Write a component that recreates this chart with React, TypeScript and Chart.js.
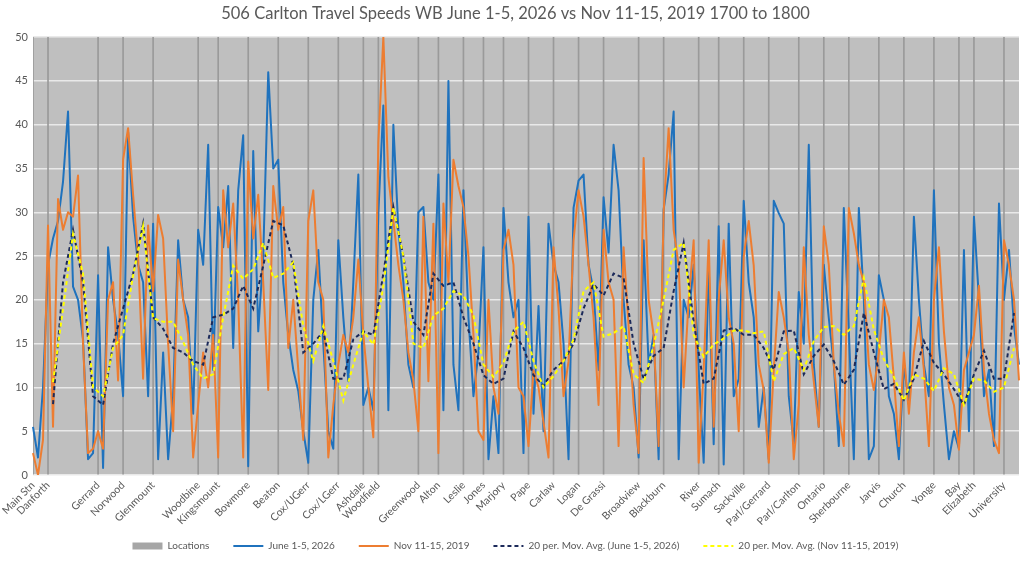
import React, { useEffect, useRef } from "react";
import { Chart, registerables } from "chart.js";

Chart.register(...registerables);

const chartTitle = "506 Carlton Travel Speeds WB June 1-5, 2026 vs Nov 11-15, 2019 1700 to 1800";

const locationNames = [
  "Main Stn", "Danforth", "Gerrard", "Norwood", "Glenmount", "Woodbine", "Kingsmount", "Bowmore",
  "Beaton", "Cox/UGerr", "Cox/LGerr", "Ashdale", "Woodfield", "Greenwood", "Alton", "Leslie",
  "Jones", "Marjory", "Pape", "Carlaw", "Logan", "De Grassi", "Broadview", "Blackburn", "River",
  "Sumach", "Sackville", "Parl/Gerrard", "Parl/Carlton", "Ontario", "Sherbourne", "Jarvis",
  "Church", "Yonge", "Bay", "Elizabeth", "University",
];
const locationIndex = [
  0, 3, 13, 18, 24, 33, 37, 43, 49, 55, 61, 66, 69, 77, 81, 86, 90, 94, 99, 104, 109, 114, 121,
  126, 133, 137, 142, 147, 153, 158, 163, 169, 174, 180, 185, 188, 194,
];

// June 1-5, 2026 speeds (km/h) per sample
const juneSpeeds = [
  5.5, 2, 10, 24, 27, 29, 33.5, 41.5, 21.5, 20, 15.5, 1.8, 2.5, 22.8, 0.8, 26, 20, 16, 9, 39.2, 29.5, 24, 22, 9, 28.7, 1.8, 14, 1.8,
  9, 26.8, 20, 18, 7, 28, 24, 37.7, 12, 30.6, 26, 33, 14.5, 32.5, 38.8, 1, 37, 16.4, 25, 46, 35, 36, 22, 16, 12, 9.6, 5, 1.4,
  20, 25.7, 15, 5, 3, 26.8, 18, 10.7, 22, 34.3, 8, 10, 7.4, 29.9, 42.2, 7.4, 40, 28, 22, 12.6, 10, 30, 30.6, 22, 20, 34.3, 7.4, 45,
  12.6, 7.4, 32.5, 18, 9, 14, 26, 1.8, 9, 2.5, 30.5, 22, 18, 20, 2.5, 29.5, 7, 19.3, 5, 28.7, 24, 22, 15, 1.8, 30.5, 33.6, 34.3, 24,
  21, 12, 31.7, 25.4, 37.7, 32.5, 20, 12.6, 10, 2, 26.8, 12.6, 16, 1.8, 30.3, 34.3, 41.5, 1.8, 20, 18, 24, 12, 1.4, 24, 3.5, 28.4, 1.2, 28.7,
  9, 11, 31.3, 22, 18, 5.5, 10, 1.8, 31.3, 29.9, 28.7, 9, 3.6, 20.9, 15, 37.7, 12.6, 5.5, 24, 17.9, 12.6, 3.3, 30.5, 16.4, 1.8, 30.5, 20, 1.8,
  3.3, 22.8, 20, 9, 7, 1.8, 12.6, 8, 29.5, 20, 12.6, 9, 32.5, 15, 8, 1.8, 5, 3, 25.7, 5, 29.5, 20, 9, 12, 3.3, 31, 20, 25.7, 17, 12.6,
];

// Nov 11-15, 2019 speeds (km/h) per sample
const novSpeeds = [
  2.5, 0, 4, 28.5, 5.5, 31.5, 28, 30, 29.5, 34.2, 15, 2.5, 3, 5, 3, 20, 22, 10.8, 36, 39.6, 32, 25, 11, 28.5, 21, 29.7, 27, 15,
  5, 24.6, 20, 16, 2, 8, 14, 10, 16, 2, 32.5, 26, 31, 20, 2, 35.8, 27, 32, 22, 9.7, 33, 28, 30.6, 14.5, 20, 12, 4, 29,
  32.5, 22, 20, 2, 8, 12.6, 16, 14, 18, 24.6, 16, 10, 4.3, 38, 50, 34, 29, 24, 20, 14, 10.8, 5, 29.5, 10.7, 28.7, 2.5, 31, 22,
  36, 33, 30.6, 25, 16, 5, 4, 20, 10, 7, 25.7, 28, 24, 10, 9, 3.3, 12, 10, 6, 2, 26, 19, 9, 13, 26.8, 32.5, 29.5, 24,
  18, 8, 28, 22, 20, 3.3, 26, 17, 8, 2.5, 36.2, 20, 16, 3.3, 30, 39.6, 28, 24, 10, 20, 26.8, 1.4, 12, 26.8, 5.5, 20, 26.8, 18,
  15, 5, 25, 29, 23.9, 12.6, 9.7, 1.4, 12, 20.9, 18, 14, 1.8, 8, 26, 16, 10.7, 5.5, 28.4, 24, 12.6, 7, 3.3, 30.5, 27.6, 24, 22, 12.6,
  9.7, 14, 20, 18, 11, 3.3, 14, 7, 14, 18, 12, 3.3, 20, 26, 16.4, 10, 8, 2.9, 12, 14, 16, 21.6, 12, 7, 4, 2.5, 26.8, 24, 20, 10.8,
];

// 20 per. moving averages, read at every second sample (0, 2, 4, ...)
const juneMovAvg = [
  null, null, 8.1, 22, 28, 22, 9, 8, 15, 19, 23, 28.7, 18, 16.7,
  14.5, 14, 13, 12.6, 18, 18.3, 19, 21.6, 19, 23.9, 29, 28.5, 24, 14,
  15, 16.4, 11, 11, 15.5, 16.4, 16, 23, 30.6, 25, 17.5, 16, 23, 21.6,
  22, 18, 15, 11.4, 10.4, 11, 16.4, 14.5, 11.4, 10.2, 12, 13, 15, 19,
  21.8, 20.5, 23, 22.5, 15, 11, 13.6, 14.5, 21, 26.5, 17.5, 10.4, 11, 16.5,
  16.8, 16, 16, 14.5, 12, 16.4, 16.5, 11.5, 13.6, 14.9, 13, 10.3, 12, 18.5,
  14, 9.8, 10.4, 8.6, 11, 15.3, 12.8, 11.5, 9.8, 8, 11.5, 14.2, 11, 11, 18.5,
];
const novMovAvg = [
  null, null, 10.6, 19, 27.5, 23, 10, 9, 14.5, 16, 22.8, 28.4, 17.9, 17.5,
  17.5, 15.2, 12.6, 11, 11.5, 18, 23.9, 22.4, 23.5, 26.5, 22.5, 23, 24.3, 17,
  13, 17, 13, 8.5, 12.6, 16.4, 14.9, 21.6, 30.5, 25, 15, 14.5, 18.2, 19,
  21, 20.5, 18.2, 12.6, 11.2, 12.8, 16.4, 17.5, 13, 10, 11.3, 13, 15.5, 21,
  22, 15.8, 16.2, 17, 11.5, 10.5, 14.8, 20, 25.7, 26.5, 16, 13.5, 14.9, 15.6,
  16.5, 16.5, 16.2, 16.4, 10.7, 13.8, 14.5, 12, 15.3, 16.9, 17, 16, 17, 22.5,
  16.6, 13.2, 11.2, 8.5, 11.5, 11, 9.6, 12.2, 11.5, 8, 11, 10.8, 9.5, 10, 14.5,
];

const yMin = 0;
const yMax = 50;
const yStep = 5;
const locationBarValue = 50;

const seriesNames = [
  "Locations",
  "June 1-5, 2026",
  "Nov 11-15, 2019",
  "20 per. Mov. Avg. (June 1-5, 2026)",
  "20 per. Mov. Avg. (Nov 11-15, 2019)",
];

const TEXT = "#595959";
const FONT = "Lato, 'Open Sans', sans-serif";

const plotBackground = {
  id: "plotBackground",
  beforeDraw(chart: any) {
    const { ctx, chartArea: a } = chart;
    if (!a) return;
    ctx.save();
    ctx.fillStyle = "#bfbfbf";
    ctx.fillRect(a.left, a.top, a.right - a.left, a.bottom - a.top);
    ctx.restore();
  },
};

// let the rotated category labels run below the (compact) x-axis box
const unclipXLabels = {
  id: "unclipXLabels",
  afterLayout(chart: any) {
    const x = chart.scales.x;
    if (x) x.bottom = chart.height;
  },
};

export default function App() {
  const canvasRef = useRef<HTMLCanvasElement | null>(null);

  useEffect(() => {
    if (!canvasRef.current) return;
    const n = juneSpeeds.length;
    const labels: string[] = Array.from({ length: n }, () => "");
    locationIndex.forEach((idx, k) => {
      labels[idx] = locationNames[k];
    });
    const locSet = new Set(locationIndex);
    const locationBars = labels.map((_, i) => (locSet.has(i) ? locationBarValue : null));
    const expand = (arr: (number | null)[]) => {
      const out: (number | null)[] = new Array(n).fill(null);
      arr.forEach((v, k) => {
        if (2 * k < n) out[2 * k] = v;
      });
      return out;
    };

    const chart = new Chart(canvasRef.current, {
      type: "line",
      data: {
        labels,
        datasets: [
          {
            type: "bar",
            label: seriesNames[0],
            data: locationBars,
            backgroundColor: "#9a9a9a",
            borderWidth: 0,
            barThickness: 1,
            order: 5,
          } as any,
          {
            label: seriesNames[1],
            data: juneSpeeds,
            borderColor: "#1f72bd",
            backgroundColor: "#1f72bd",
            borderWidth: 2,
            pointRadius: 0,
            tension: 0,
            borderJoinStyle: "round",
            order: 4,
          },
          {
            label: seriesNames[2],
            data: novSpeeds,
            borderColor: "#ed7d31",
            backgroundColor: "#ed7d31",
            borderWidth: 2,
            pointRadius: 0,
            tension: 0,
            borderJoinStyle: "round",
            order: 3,
          },
          {
            label: seriesNames[3],
            data: expand(juneMovAvg),
            borderColor: "#1c2a5a",
            backgroundColor: "#1c2a5a",
            borderWidth: 2,
            borderDash: [4, 3],
            pointRadius: 0,
            spanGaps: true,
            tension: 0,
            order: 2,
          },
          {
            label: seriesNames[4],
            data: expand(novMovAvg),
            borderColor: "#ffff00",
            backgroundColor: "#ffff00",
            borderWidth: 2,
            borderDash: [4, 3],
            pointRadius: 0,
            spanGaps: true,
            tension: 0,
            order: 1,
          },
        ],
      },
      options: {
        animation: false,
        responsive: true,
        maintainAspectRatio: false,
        layout: { padding: { left: 12, right: 5, top: 0, bottom: 2 } },
        font: { family: FONT },
        plugins: {
          tooltip: { enabled: false },
          title: {
            display: true,
            text: chartTitle,
            color: TEXT,
            font: { family: FONT, size: 16.5, weight: "normal" },
            padding: { top: 3.3, bottom: 14 },
          },
          legend: {
            position: "bottom",
            onClick: () => {},
            labels: {
              color: TEXT,
              font: { family: FONT, size: 10 },
              usePointStyle: true,
              pointStyleWidth: 30,
              boxHeight: 7,
              padding: 24,
              generateLabels: (c: any) =>
                c.data.datasets.map((ds: any, i: number) => ({
                  text: ds.label,
                  datasetIndex: i,
                  fillStyle: i === 0 ? "#a6a6a6" : ds.borderColor,
                  strokeStyle: i === 0 ? "#a6a6a6" : ds.borderColor,
                  lineWidth: i === 0 ? 0 : 2,
                  lineDash: ds.borderDash || [],
                  pointStyle: i === 0 ? "rect" : "line",
                  hidden: false,
                  fontColor: TEXT,
                })),
            },
          },
        },
        scales: {
          x: {
            type: "category",
            offset: false,
            grid: { display: false, offset: false, drawTicks: false },
            border: { display: false },
            ticks: {
              autoSkip: false,
              maxRotation: 45,
              minRotation: 45,
              color: TEXT,
              padding: 4,
              font: { family: FONT, size: 10.5 },
            },
            afterFit: (s: any) => {
              s.height = 42;
              s.paddingLeft = 0;
              s.paddingRight = 0;
            },
          },
          y: {
            min: yMin,
            max: yMax,
            grid: { color: "#e9e9e9", lineWidth: 1.5, drawTicks: false },
            border: { display: false },
            ticks: {
              stepSize: yStep,
              color: TEXT,
              padding: 5,
              font: { family: FONT, size: 11 },
            },
            afterFit: (s: any) => {
              s.width = 21;
            },
          },
        },
      },
      plugins: [plotBackground, unclipXLabels],
    } as any);

    return () => chart.destroy();
  }, []);

  return (
    <div style={{ position: "absolute", left: 0, top: 0, width: 1024, height: 563, background: "#ffffff" }}>
      <canvas ref={canvasRef} />
    </div>
  );
}
